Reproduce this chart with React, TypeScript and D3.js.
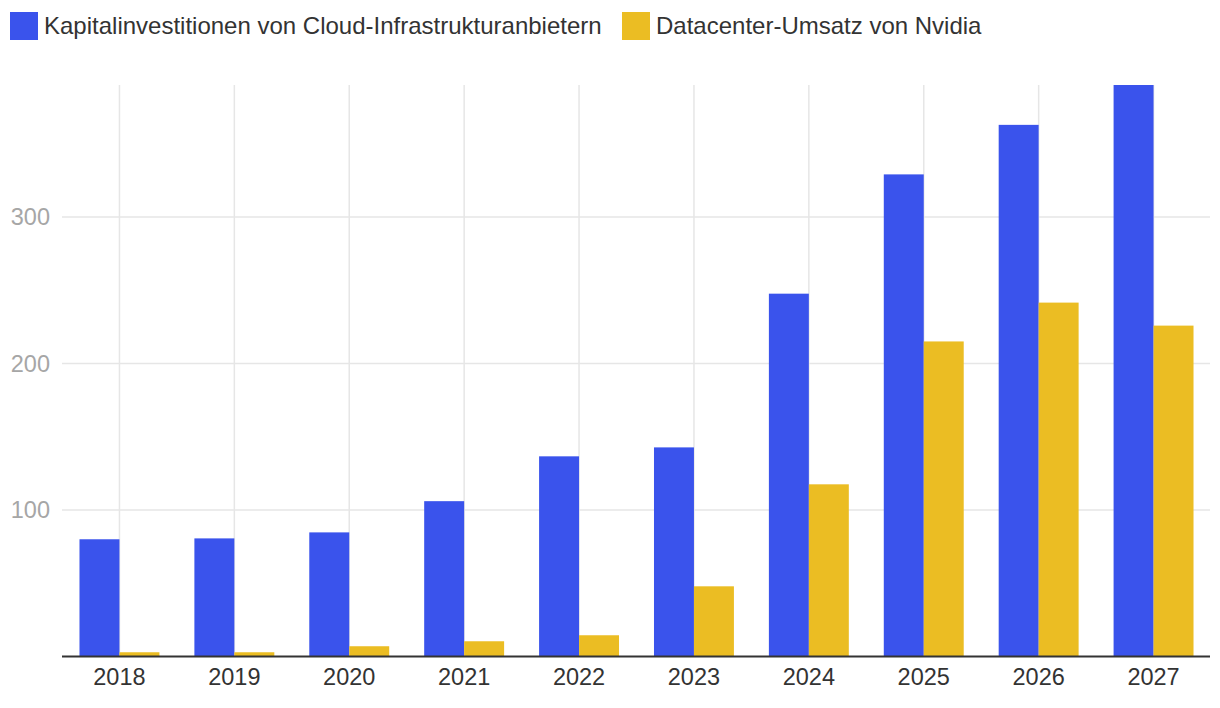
import React from "react";
import * as d3 from "d3";

const years = ["2018", "2019", "2020", "2021", "2022", "2023", "2024", "2025", "2026", "2027"];
const cloudCapex = [80, 80.6, 84.7, 106, 136.6, 142.7, 247.6, 329, 362.8, 390];
const nvidiaDatacenter = [2.9, 2.9, 7, 10.4, 14.5, 47.9, 117.5, 215, 241.5, 225.8];
const seriesNames = ["Kapitalinvestitionen von Cloud-Infrastrukturanbietern", "Datacenter-Umsatz von Nvidia"];
const seriesColors = ["#3A53EC", "#EBBD23"];
const yTicks = [100, 200, 300];

const W = 1220;
const H = 708;
const FONT = "'Liberation Sans', Arial, Helvetica, sans-serif";

export default function App() {
  const left = 62;
  const right = 1211;
  const top = 85;
  const bottom = 656.5;

  const x = d3.scaleBand<string>().domain(years).range([left, right]).paddingInner(35 / 115).paddingOuter(17.5 / 115);
  const xs = d3.scaleBand<number>().domain([0, 1]).range([0, x.bandwidth()]);
  const y = d3.scaleLinear().domain([0, 390]).range([bottom, top]);
  const series = [cloudCapex, nvidiaDatacenter];

  return (
    <svg width={W} height={H} style={{ position: "absolute", left: 0, top: 0, background: "#fff" }}>
      <g>
        {years.map((yr) => {
          const cx = (x(yr) ?? 0) + x.bandwidth() / 2;
          return <line key={"vg" + yr} x1={cx} x2={cx} y1={top} y2={bottom} stroke="#e6e6e6" strokeWidth={1.5} />;
        })}
        {yTicks.map((t) => (
          <line key={"hg" + t} x1={left} x2={right - 1} y1={y(t)} y2={y(t)} stroke="#e6e6e6" strokeWidth={1.5} />
        ))}
      </g>
      <g>
        {series.map((vals, si) =>
          vals.map((v, i) => (
            <rect
              key={si + "-" + i}
              x={(x(years[i]) ?? 0) + (xs(si) ?? 0)}
              y={y(v)}
              width={xs.bandwidth()}
              height={bottom - y(v)}
              fill={seriesColors[si]}
            />
          ))
        )}
      </g>
      <line x1={left} x2={right - 1} y1={bottom} y2={bottom} stroke="#333" strokeWidth={2} />
      <g fontFamily={FONT}>
        {yTicks.map((t) => (
          <text key={"yl" + t} x={50} y={y(t)} dy="0.35em" textAnchor="end" fontSize={23.5} fill="#a6a6a6">
            {t}
          </text>
        ))}
        {years.map((yr) => (
          <text key={"xl" + yr} x={(x(yr) ?? 0) + x.bandwidth() / 2} y={677} dy="0.35em" textAnchor="middle" fontSize={23.5} fill="#333">
            {yr}
          </text>
        ))}
      </g>
      <g fontFamily={FONT}>
        <rect x={10} y={12} width={28} height={28} fill={seriesColors[0]} />
        <text x={44} y={26} dy="0.35em" fontSize={24} fill="#333">{seriesNames[0]}</text>
        <rect x={622} y={12} width={28} height={28} fill={seriesColors[1]} />
        <text x={656} y={26} dy="0.35em" fontSize={24} fill="#333">{seriesNames[1]}</text>
      </g>
    </svg>
  );
}
